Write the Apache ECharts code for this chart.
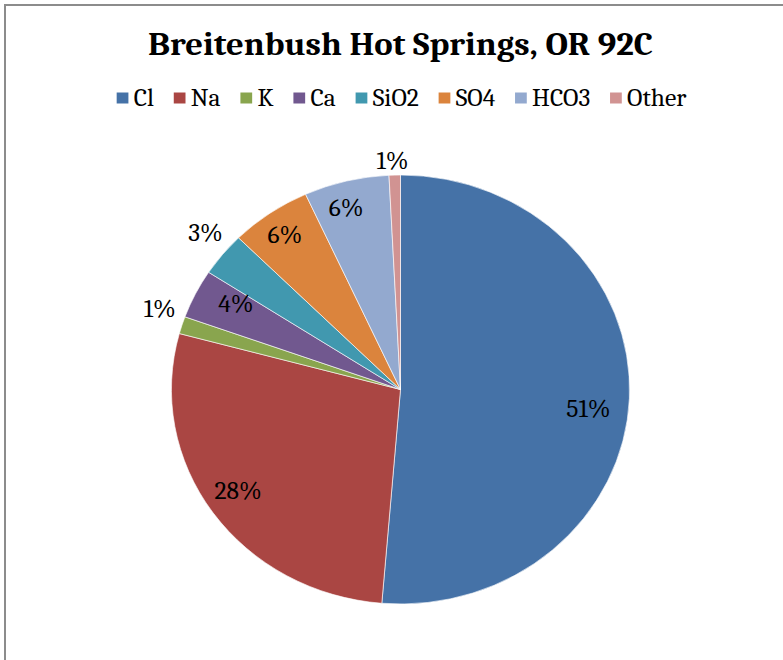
<!DOCTYPE html>
<html>
<head>
<meta charset="utf-8">
<script src="https://cdn.jsdelivr.net/npm/echarts@6/dist/echarts.min.js"></script>
<style>
  html, body { margin: 0; padding: 0; background: #fff; overflow: hidden; }
  #frame { position: absolute; left: 4px; top: 4px; width: 900px; height: 800px; border: 2px solid #8c8c8c; box-sizing: border-box; }
  /* the reference is stretched sideways, so the chart is drawn narrower and widened */
  #chart { position: absolute; left: 0; top: 0; width: 750px; height: 660px; transform: scaleX(1.068); transform-origin: 0 0; }
</style>
</head>
<body>
<div id="frame"></div>
<div id="chart"></div>
<script>
const categories = ['Cl', 'Na', 'K', 'Ca', 'SiO2', 'SO4', 'HCO3', 'Other']
const percents = [51.3, 27.9, 1.3, 3.7, 3.3, 5.7, 6.0, 0.8]
const outsideLabels = ['K', 'SiO2', 'Other']
const colors = ['#4572A7', '#AA4643', '#89A54E', '#71588F', '#4198AF', '#DB843D', '#93A9CF', '#D19392']

// small nudges so labels sit where Excel's best-fit put them
const labelNudge = {
  Cl: [-5, 12], Na: [-4, -2], K: [0, -14], Ca: [8, -5],
  SiO2: [5, -17], SO4: [-5, -5], HCO3: [-8, -5], Other: [18, -8]
}

const serif = 'Cambria, "DejaVu Serif", "Liberation Serif", serif'
const center = [375, 389.5]
const radius = 214.5

const data = categories.map((name, i) => ({
  name: name,
  value: percents[i],
  label: { offset: labelNudge[name] }
}))

const chart = echarts.init(document.getElementById('chart'), null, { renderer: 'svg' })
chart.setOption({
  color: colors,
  animation: false,
  title: {
    text: 'Breitenbush Hot Springs, OR 92C',
    left: 'center',
    top: 23,
    textStyle: { fontFamily: serif, fontSize: 32.5, fontWeight: 'bold', color: '#000' }
  },
  legend: {
    top: 81,
    left: 'center',
    icon: 'rect',
    itemWidth: 13,
    itemHeight: 13,
    itemGap: 16.5,
    textStyle: { fontFamily: serif, fontSize: 24, color: '#000', padding: [0, 0, 0, -1] },
    data: categories
  },
  series: [
    {
      type: 'pie',
      center: center,
      radius: radius,
      startAngle: 90,
      itemStyle: { borderColor: '#fff', borderWidth: 0.6 },
      label: {
        show: true,
        position: 'outside',
        formatter: p => outsideLabels.includes(p.name) ? Math.round(p.value) + '%' : '',
        fontFamily: serif,
        fontSize: 24,
        color: '#000'
      },
      labelLine: { show: false, length: 6, length2: 0 },
      data: data
    },
    {
      type: 'pie',
      center: center,
      radius: [radius * 0.66, radius],
      startAngle: 90,
      silent: true,
      legendHoverLink: false,
      itemStyle: { color: 'rgba(0,0,0,0)' },
      label: {
        show: true,
        position: 'inside',
        formatter: p => outsideLabels.includes(p.name) ? '' : Math.round(p.value) + '%',
        fontFamily: serif,
        fontSize: 24,
        color: '#000'
      },
      data: data
    }
  ]
})
</script>
</body>
</html>
